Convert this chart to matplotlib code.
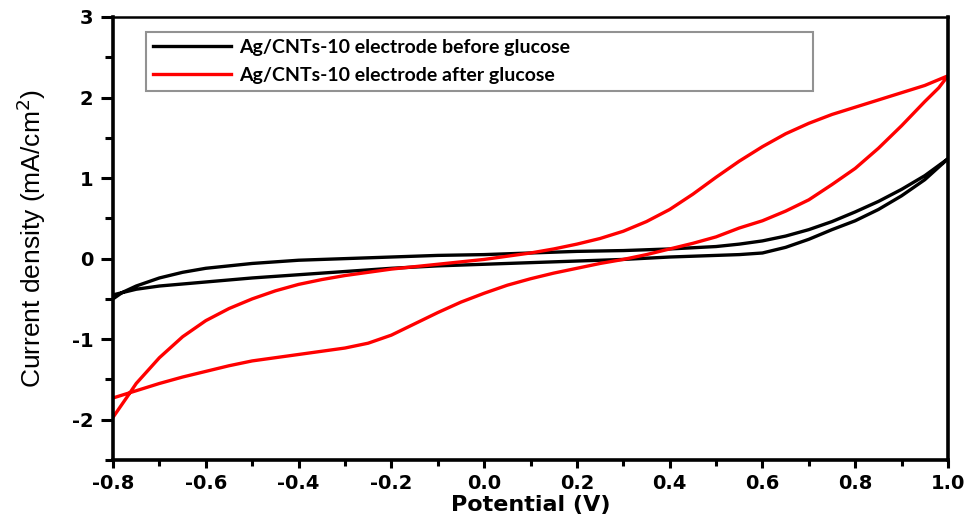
import numpy as np
import matplotlib.pyplot as plt
from matplotlib.ticker import MultipleLocator, FormatStrFormatter

plt.rcParams['axes.unicode_minus'] = False

# CV curves: forward sweep (-0.8 -> 1.0) and reverse sweep (1.0 -> -0.8)
v_black_fwd = [-0.80, -0.78, -0.75, -0.70, -0.65, -0.60, -0.55, -0.50, -0.45, -0.40, -0.30, -0.20, -0.10,
               0.00, 0.10, 0.20, 0.30, 0.40, 0.50, 0.55, 0.60, 0.65, 0.70, 0.75, 0.80, 0.85, 0.90, 0.95, 1.00]
j_black_fwd = [-0.50, -0.42, -0.34, -0.24, -0.17, -0.12, -0.09, -0.06, -0.04, -0.02, 0.00, 0.02, 0.04,
               0.05, 0.07, 0.09, 0.10, 0.12, 0.15, 0.18, 0.22, 0.28, 0.36, 0.46, 0.58, 0.71, 0.86, 1.03, 1.24]
v_black_rev = [1.00, 0.95, 0.90, 0.85, 0.80, 0.75, 0.70, 0.65, 0.60, 0.55, 0.50, 0.40, 0.30, 0.20, 0.10,
               0.00, -0.10, -0.20, -0.30, -0.40, -0.50, -0.60, -0.70, -0.75, -0.80]
j_black_rev = [1.24, 0.98, 0.78, 0.61, 0.47, 0.36, 0.24, 0.14, 0.07, 0.05, 0.04, 0.02, -0.01, -0.03, -0.05,
               -0.07, -0.09, -0.12, -0.16, -0.20, -0.24, -0.29, -0.34, -0.38, -0.45]

v_red_fwd = [-0.80, -0.77, -0.75, -0.70, -0.65, -0.60, -0.55, -0.50, -0.45, -0.40, -0.35, -0.30, -0.25,
             -0.20, -0.15, -0.10, -0.05, 0.00, 0.05, 0.10, 0.15, 0.20, 0.25, 0.30, 0.35, 0.40, 0.45,
             0.50, 0.55, 0.60, 0.65, 0.70, 0.75, 0.80, 0.85, 0.90, 0.95, 1.00]
j_red_fwd = [-1.97, -1.72, -1.55, -1.23, -0.97, -0.77, -0.62, -0.50, -0.40, -0.32, -0.26, -0.21, -0.17,
             -0.13, -0.10, -0.07, -0.04, -0.01, 0.03, 0.07, 0.12, 0.18, 0.25, 0.34, 0.46, 0.61, 0.80,
             1.01, 1.21, 1.39, 1.55, 1.68, 1.79, 1.88, 1.97, 2.06, 2.15, 2.27]
v_red_rev = [1.00, 0.98, 0.95, 0.90, 0.85, 0.80, 0.75, 0.70, 0.65, 0.60, 0.55, 0.50, 0.45, 0.40, 0.35,
             0.30, 0.25, 0.20, 0.15, 0.10, 0.05, 0.00, -0.05, -0.10, -0.15, -0.20, -0.25, -0.30, -0.35,
             -0.40, -0.45, -0.50, -0.55, -0.60, -0.65, -0.70, -0.75, -0.80]
j_red_rev = [2.27, 2.12, 1.95, 1.65, 1.37, 1.12, 0.92, 0.73, 0.59, 0.47, 0.38, 0.27, 0.19, 0.12, 0.05,
             -0.01, -0.06, -0.12, -0.18, -0.25, -0.33, -0.43, -0.54, -0.67, -0.81, -0.95, -1.05, -1.11, -1.15,
             -1.19, -1.23, -1.27, -1.33, -1.40, -1.47, -1.55, -1.64, -1.73]

labels = ['Ag/CNTs-10 electrode before glucose', 'Ag/CNTs-10 electrode after glucose']
colors = ['black', '#ff0000']

fig = plt.figure(figsize=(9.71, 5.26), dpi=100)
ax = fig.add_axes([0.1164, 0.1255, 0.8599, 0.8422])

ax.plot(v_black_fwd + v_black_rev, j_black_fwd + j_black_rev, color=colors[0], lw=2.4, label=labels[0])
ax.plot(v_red_fwd + v_red_rev, j_red_fwd + j_red_rev, color=colors[1], lw=2.4, label=labels[1])

ax.set_xlim(-0.8, 1.0)
ax.set_ylim(-2.5, 3)
ax.xaxis.set_major_locator(MultipleLocator(0.2))
ax.xaxis.set_minor_locator(MultipleLocator(0.1))
ax.xaxis.set_major_formatter(FormatStrFormatter('%.1f'))
ax.yaxis.set_major_locator(MultipleLocator(1))
ax.yaxis.set_minor_locator(MultipleLocator(0.5))

ax.tick_params(axis='x', which='major', direction='out', length=6, width=2.2, pad=4)
ax.tick_params(axis='x', which='minor', direction='out', length=4, width=2.2)
ax.tick_params(axis='y', which='major', direction='out', length=9, width=2.2, pad=5)
ax.tick_params(axis='y', which='minor', direction='out', length=5.5, width=2.2)
for lab in ax.get_xticklabels() + ax.get_yticklabels():
    lab.set_fontweight('bold')
    lab.set_fontsize(14)
    lab.set_family('DejaVu Sans')

for side in ['left', 'bottom', 'right']:
    ax.spines[side].set_linewidth(2.6)
ax.spines['top'].set_linewidth(1.8)

ax.set_xlabel('Potential (V)', fontsize=16, fontweight='bold', family='DejaVu Sans')
ax.xaxis.set_label_coords(0.5, -0.078)
ax.set_ylabel('Current density (mA/cm$^2$)', fontsize=19, family='Liberation Sans')
ax.yaxis.set_label_coords(-0.078, 0.5)

leg = ax.legend(loc='upper left', bbox_to_anchor=(0.0395, 0.966, 0.799, 0.0), mode='expand',
                fancybox=False, edgecolor='#777777', handlelength=4.0, handletextpad=0.4,
                labelspacing=0.55, borderpad=0.37, borderaxespad=0,
                prop={'family': 'Lato', 'weight': 'bold', 'size': 14})
leg.get_frame().set_linewidth(1.5)

plt.savefig('out.png', dpi=100)
